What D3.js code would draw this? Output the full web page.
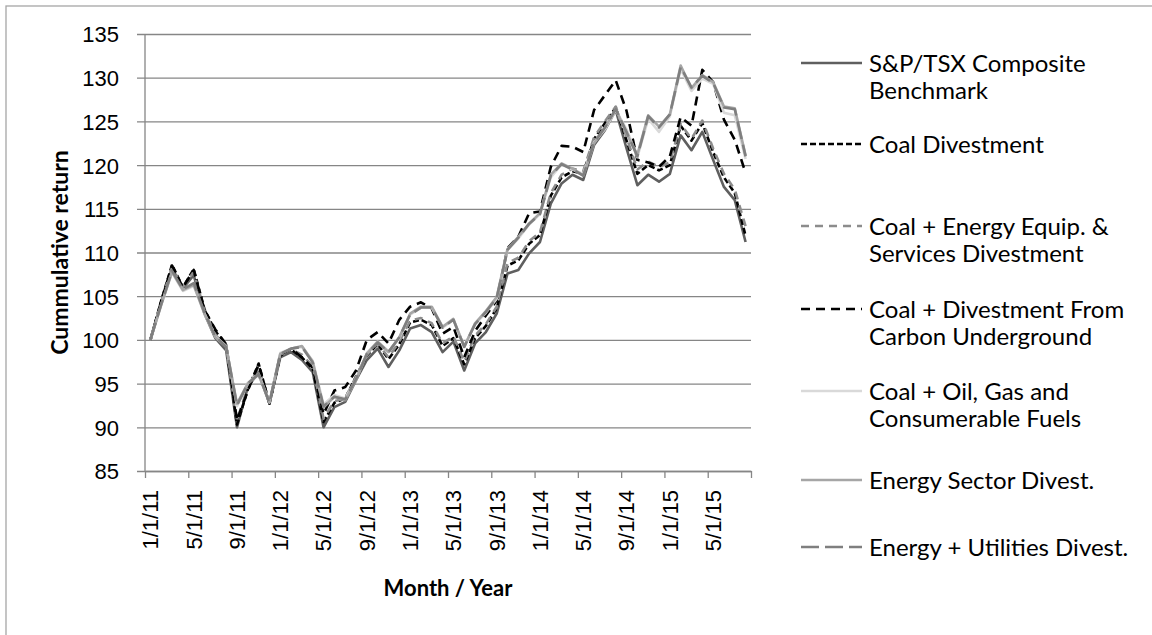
<!DOCTYPE html>
<html>
<head>
<meta charset="utf-8">
<script src="https://cdn.jsdelivr.net/npm/d3@7"></script>
<style>
  body { margin: 0; background: #fff; }
  svg { display: block; font-family: Lato, "Open Sans", sans-serif; }
</style>
</head>
<body>
<svg id="chart" width="1152" height="635"></svg>
<script>
// monthly cumulative return, Jan 2011 .. Aug 2015 (56 months)
const months = d3.timeMonth.range(new Date(2011, 0, 1), new Date(2015, 8, 1));
const tickLabels = ["1/1/11", "5/1/11", "9/1/11", "1/1/12", "5/1/12", "9/1/12", "1/1/13",
  "5/1/13", "9/1/13", "1/1/14", "5/1/14", "9/1/14", "1/1/15", "5/1/15"];
const yTicks = [85, 90, 95, 100, 105, 110, 115, 120, 125, 130, 135];

const benchmark = [100, 104.2, 108.2, 105.9, 107.4, 103.0, 100.2, 98.8, 90.0, 94.6, 96.3, 92.7,
  98.0, 98.6, 97.7, 96.3, 90.0, 92.3, 92.9, 95.4, 97.7, 99.0, 96.9, 98.8,
  101.3, 101.7, 100.9, 98.6, 99.8, 96.5, 99.6, 100.9, 103.0, 107.6, 108.0, 109.9,
  111.2, 115.6, 117.9, 118.9, 118.3, 122.3, 124.0, 126.3, 121.9, 117.7, 118.9, 118.1,
  119.0, 123.4, 121.7, 123.8, 120.6, 117.5, 116.0, 111.2];
const coalDiv = [100, 104.5, 108.6, 106.0, 108.1, 103.5, 101.0, 99.4, 90.3, 94.3, 97.3, 92.7,
  98.2, 98.9, 98.0, 96.7, 90.6, 92.8, 93.3, 95.8, 98.2, 99.5, 97.8, 99.5,
  102.0, 102.3, 101.7, 99.3, 100.2, 97.2, 100.2, 101.6, 103.6, 108.5, 109.1, 111.0,
  112.0, 116.5, 118.6, 119.3, 119.0, 123.0, 124.8, 126.6, 122.8, 119.0, 120.0, 119.4,
  120.0, 124.5, 122.8, 124.8, 121.5, 118.6, 116.8, 111.9];
const coalEquip = [100, 104.4, 108.3, 106.0, 107.8, 103.3, 100.6, 99.2, 90.8, 94.6, 96.8, 92.8,
  98.2, 98.9, 98.3, 97.0, 91.0, 93.0, 93.3, 95.8, 98.3, 99.6, 98.0, 99.8,
  102.2, 102.5, 101.9, 99.6, 100.4, 97.5, 100.5, 101.8, 103.8, 108.8, 109.4, 111.3,
  112.3, 116.8, 118.9, 119.6, 119.3, 123.2, 125.0, 126.7, 123.2, 119.5, 120.4, 119.8,
  120.3, 124.7, 123.0, 125.1, 121.9, 119.0, 117.2, 113.0];
const coalCarbon = [100, 104.4, 108.5, 106.0, 108.0, 103.4, 101.2, 99.5, 90.8, 94.2, 97.2, 92.7,
  98.3, 99.0, 98.0, 96.8, 91.5, 94.2, 94.6, 96.5, 100.0, 100.9, 99.6, 102.3,
  103.8, 104.3, 103.6, 100.7, 101.5, 98.0, 101.0, 102.8, 104.5, 110.5, 111.8, 114.5,
  114.7, 119.8, 122.2, 122.1, 121.5, 126.3, 128.0, 129.7, 126.2, 120.6, 120.3, 119.8,
  121.0, 125.5, 124.5, 130.9, 129.5, 125.2, 122.9, 119.1];
const coalOilGas = [100, 104.0, 107.7, 105.6, 106.2, 103.0, 100.4, 99.3, 92.4, 95.1, 96.1, 92.9,
  98.5, 99.0, 99.2, 97.6, 92.6, 93.7, 93.3, 95.5, 98.5, 99.8, 98.7, 100.2,
  102.9, 103.7, 103.7, 101.4, 102.3, 99.3, 101.8, 103.1, 104.7, 110.3, 111.6, 113.2,
  114.4, 118.6, 120.1, 119.5, 119.0, 122.6, 124.1, 126.3, 124.1, 120.9, 125.3, 123.8,
  125.6, 131.0, 128.5, 129.9, 129.3, 126.0, 125.7, 120.7];
const energySector = [100, 104.0, 107.8, 105.7, 106.3, 103.0, 100.3, 99.2, 92.7, 95.0, 96.0, 92.8,
  98.4, 99.0, 99.3, 97.5, 92.3, 93.5, 93.1, 95.4, 98.4, 99.8, 98.6, 100.3,
  103.0, 103.8, 103.8, 101.5, 102.4, 99.2, 101.9, 103.3, 104.9, 110.4, 111.8, 113.3,
  114.5, 118.9, 120.2, 119.6, 118.8, 122.5, 124.3, 126.4, 123.6, 121.2, 125.7, 124.4,
  125.8, 131.4, 128.8, 130.3, 129.5, 126.7, 126.5, 121.1];
const energyUtil = [100, 104.1, 107.9, 105.8, 106.5, 103.1, 100.4, 99.2, 92.5, 95.0, 96.1, 92.8,
  98.4, 99.0, 99.2, 97.4, 92.4, 93.5, 93.2, 95.5, 98.4, 99.7, 98.6, 100.3,
  102.9, 103.7, 103.7, 101.4, 102.3, 99.2, 101.8, 103.2, 104.8, 110.3, 111.7, 113.3,
  114.4, 118.8, 120.1, 119.5, 118.8, 122.6, 124.3, 126.4, 123.8, 121.0, 125.6, 124.3,
  125.8, 131.2, 128.9, 130.2, 129.4, 126.6, 126.4, 121.0];

const seriesNames = [
  ["S&P/TSX Composite", "Benchmark"],
  ["Coal Divestment"],
  ["Coal + Energy Equip. &", "Services Divestment"],
  ["Coal + Divestment From", "Carbon Underground"],
  ["Coal + Oil, Gas and", "Consumerable Fuels"],
  ["Energy Sector Divest."],
  ["Energy + Utilities Divest."]
];
const seriesValues = [benchmark, coalDiv, coalEquip, coalCarbon, coalOilGas, energySector, energyUtil];
const seriesColors = ["#5f5f5f", "#000000", "#8c8c8c", "#000000", "#d9d9d9", "#a6a6a6", "#7f7f7f"];
const seriesDash = [null, "6,3", "8,6", "9,6", null, null, "18,6"];

const svg = d3.select("#chart");
const margin = { top: 34, left: 145, right: 751, bottom: 471 };
const gridColor = "#868686";

// chart border (only top/left visible in frame)
svg.append("rect")
  .attr("x", 6).attr("y", 6)
  .attr("width", 1300).attr("height", 800)
  .style("fill", "none")
  .style("stroke", "#a6a6a6")
  .style("stroke-width", 1.3);

const x = d3.scaleBand().domain(d3.range(months.length)).range([margin.left, margin.right]);
const xEdge = d3.scaleLinear().domain([0, months.length]).range([margin.left, margin.right]);
const y = d3.scaleLinear().domain([85, 135]).range([margin.bottom, margin.top]);

// y axis with gridlines
const yAxis = svg.append("g")
  .attr("transform", `translate(${margin.left - 8}, 0)`)
  .call(d3.axisLeft(y).tickValues(yTicks).tickSizeInner(-(margin.right - margin.left + 8)).tickSizeOuter(0).tickPadding(18));
yAxis.select(".domain").remove();
yAxis.selectAll("line").style("stroke", gridColor).style("stroke-width", 1.3);
yAxis.selectAll("text")
  .style("font-size", "22px")
  .style("fill", "#000")
  .attr("dy", "0.36em");

svg.append("line")
  .attr("x1", margin.left).attr("x2", margin.left)
  .attr("y1", margin.top).attr("y2", margin.bottom)
  .style("stroke", gridColor).style("stroke-width", 1.3);

// x axis: tick marks at band edges, labels at band centres
const tickIdx = d3.range(0, months.length + 1, 4);
const xTicks = svg.append("g")
  .attr("transform", `translate(0, ${margin.bottom})`)
  .call(d3.axisBottom(xEdge).tickValues(tickIdx).tickSizeInner(7).tickSizeOuter(0).tickFormat(""));
xTicks.selectAll("line, path").style("stroke", gridColor).style("stroke-width", 1.3);

const labelIdx = d3.range(0, months.length, 4);
const xLabels = svg.append("g")
  .attr("transform", `translate(0, ${margin.bottom})`)
  .call(d3.axisBottom(x).tickValues(labelIdx).tickSize(0).tickFormat((d, i) => tickLabels[i]));
xLabels.select(".domain").remove();
xLabels.selectAll("text")
  .style("font-size", "22px")
  .style("fill", "#000")
  .attr("text-anchor", "end")
  .attr("x", 0).attr("y", 0).attr("dy", "0.36em")
  .attr("transform", "translate(0, 19) rotate(-90)");

// axis titles
svg.append("text")
  .attr("transform", `translate(60, ${(margin.top + margin.bottom) / 2}) rotate(-90)`)
  .attr("text-anchor", "middle")
  .attr("dy", "0.36em")
  .style("font-size", "23px").style("font-weight", "bold")
  .text("Cummulative return");

svg.append("text")
  .attr("x", (margin.left + margin.right) / 2)
  .attr("y", 596)
  .attr("text-anchor", "middle")
  .style("font-size", "22px").style("font-weight", "bold")
  .text("Month / Year");

// series lines
const line = d3.line()
  .x((d, i) => x(i) + x.bandwidth() / 2)
  .y(d => y(d));

seriesValues.forEach((vals, s) => {
  svg.append("path")
    .datum(vals)
    .attr("d", line)
    .style("fill", "none")
    .style("stroke", seriesColors[s])
    .style("stroke-width", 2.6)
    .style("stroke-linejoin", "round")
    .style("stroke-dasharray", seriesDash[s]);
});

// legend
const legendY = [63, 144, 226, 309, 391, 480, 547];
const lineGap = 27;
seriesNames.forEach((lines, s) => {
  const ly = legendY[s];
  svg.append("line")
    .attr("x1", 801).attr("x2", 862)
    .attr("y1", ly).attr("y2", ly)
    .style("stroke", seriesColors[s])
    .style("stroke-width", 2.6)
    .style("stroke-dasharray", seriesDash[s]);
  lines.forEach((t, k) => {
    svg.append("text")
      .attr("x", 869).attr("y", ly + k * lineGap)
      .attr("dy", "0.36em")
      .style("font-size", "24px")
      .style("fill", "#000")
      .text(t);
  });
});
</script>
</body>
</html>
